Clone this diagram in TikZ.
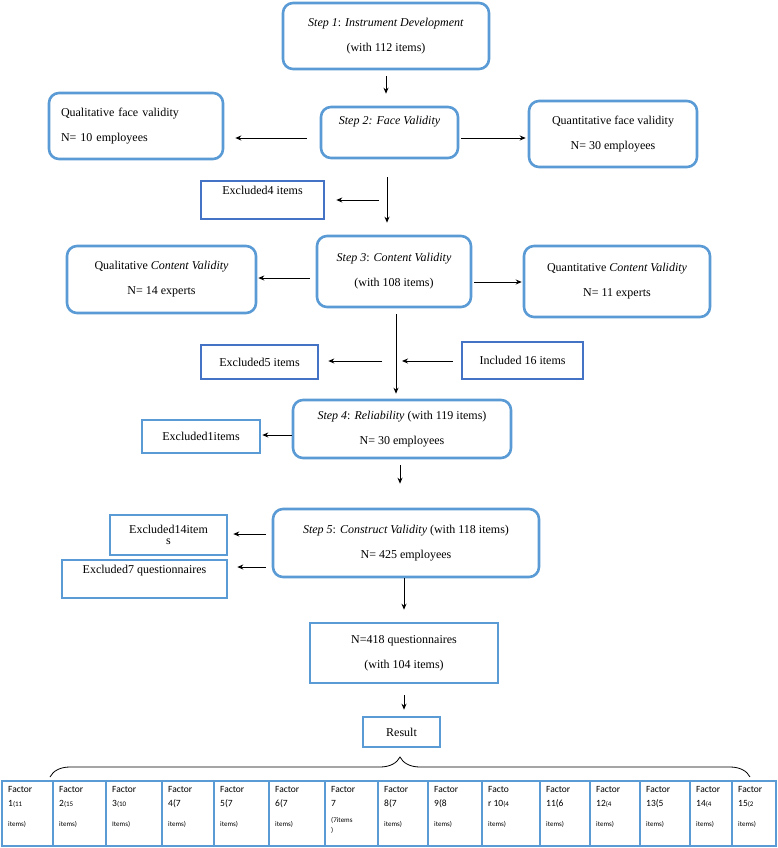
\documentclass[tikz,border=0pt]{standalone}
\usepackage{fontspec}
\setmainfont{Liberation Serif}
\newfontfamily\factorfont{Carlito}
\usetikzlibrary{positioning,decorations.pathreplacing,arrows.meta}

\definecolor{boxblue}{RGB}{91,155,213}
\definecolor{darkblue}{RGB}{68,114,196}

\begin{document}
\begin{tikzpicture}[
    x=1pt,y=-1pt,
    stepbox/.style={
      draw=boxblue,line width=2.6pt,rounded corners=10pt,
      inner sep=0pt,align=center,font=\fontsize{12}{14}\selectfont
    },
    plainbox/.style={
      stepbox,sharp corners
    },
    darkbox/.style={
      plainbox,draw=darkblue
    },
    arr/.style={
      -{Stealth[length=6pt,width=5pt]},line width=0.9pt
    }]
      \useasboundingbox (0,0) rectangle (777,848);

      \node[stepbox,minimum width=206pt,minimum height=66pt] (s1) at (386,36)
        {\textit{Step 1}: \textit{Instrument Development}\\[11pt](with 112 items)};
      \node[stepbox,minimum width=137pt,minimum height=51pt] (s2) at (389.5,132.5)
        {\textit{Step 2: Face Validity}\\[6pt]\strut};
      \node[stepbox,minimum width=174pt,minimum height=66pt,text width=150pt,align=left] (qf) at (136,126)
        {Qualitative face validity\\[11pt]N= 10 employees};
      \node[stepbox,minimum width=168pt,minimum height=66pt] (qnf) at (613,134)
        {Quantitative face validity\\[11pt]N= 30 employees};
      \node[darkbox,minimum width=123pt,minimum height=38pt] (ex4) at (262.5,200)
        {Excluded4 items\\[2pt]\strut};

      \node[stepbox,minimum width=154pt,minimum height=71pt] (s3) at (394,271.5)
        {\textit{Step 3}: \textit{Content Validity}\\[11pt](with 108 items)};
      \node[stepbox,minimum width=189pt,minimum height=67pt] (qc) at (161.5,279.5)
        {Qualitative \textit{Content Validity}\\[11pt]N= 14 experts};
      \node[stepbox,minimum width=186pt,minimum height=71pt] (qnc) at (617,281.5)
        {Quantitative \textit{Content Validity}\\[11pt]N= 11 experts};
      \node[darkbox,minimum width=117pt,minimum height=34pt] (ex5) at (259.5,362) {Excluded5 items};
      \node[darkbox,minimum width=121pt,minimum height=37pt] (in16) at (522.5,360.5) {Included 16 items};

      \node[stepbox,minimum width=218pt,minimum height=58pt] (s4) at (402,429)
        {\textit{Step 4}: \textit{Reliability} (with 119 items)\\[11pt]N= 30 employees};
      \node[plainbox,minimum width=118pt,minimum height=33pt] (ex1) at (201,436.5) {Excluded1items};

      \node[stepbox,minimum width=266pt,minimum height=68pt] (s5) at (406,543)
        {\textit{Step 5}: \textit{Construct Validity} (with 118 items)\\[11pt]N= 425 employees};
      \node[plainbox,minimum width=117pt,minimum height=40pt] (ex14) at (168.5,535)
        {Excluded14item\\[-3pt]s};
      \node[plainbox,minimum width=165pt,minimum height=38pt] (ex7) at (144.5,579)
        {Excluded7 questionnaires\\[2pt]\strut};

      \node[plainbox,minimum width=188pt,minimum height=60pt] (n418) at (404,653)
        {N=418 questionnaires\\[11pt](with 104 items)};
      \node[plainbox,minimum width=77pt,minimum height=30pt] (res) at (401.5,732) {Result};

      % factor row
      \foreach \n/\xa/\xb/\txt in {
          f1/2/53/{Factor\\1{\scriptsize(11}\\[6pt]{\scriptsize items)}},
          f2/53/106/{Factor\\2{\scriptsize(15}\\[6pt]{\scriptsize items)}},
          f3/106/162/{Factor\\3{\scriptsize(10}\\[6pt]{\scriptsize Items)}},
          f4/162/214/{Factor\\4(7\\[6pt]{\scriptsize items)}},
          f5/214/269/{Factor\\5(7\\[6pt]{\scriptsize items)}},
          f6/269/325/{Factor\\6(7\\[6pt]{\scriptsize items)}},
          f7/325/378/{Factor\\7\\[2pt]{\scriptsize(7items}\\[-4pt]{\scriptsize )}},
          f8/378/428/{Factor\\8(7\\[6pt]{\scriptsize items)}},
          f9/428/482/{Factor\\9(8\\[6pt]{\scriptsize items)}},
          f10/482/540/{Facto\\r 10{\scriptsize(4}\\[6pt]{\scriptsize items)}},
          f11/540/590/{Factor\\11(6\\[6pt]{\scriptsize items)}},
          f12/590/640/{Factor\\12{\scriptsize(4}\\[6pt]{\scriptsize items)}},
          f13/640/690/{Factor\\13(5\\[6pt]{\scriptsize items)}},
          f14/690/732/{Factor\\14{\scriptsize(4}\\[6pt]{\scriptsize items)}},
          f15/732/776/{Factor\\15{\scriptsize(2}\\[6pt]{\scriptsize items)}}}{
        \draw[draw=boxblue,line width=2.4pt] (\xa,781) rectangle (\xb,846);
        \node[anchor=north west,inner sep=0pt,align=left,
              font=\factorfont\fontsize{9.5}{14}\selectfont] (\n) at (\xa+6,786) {\txt};
      }

      % connectors
      \draw[arr,shorten <=6pt,shorten >=12pt] (s1.south) -- (s1.south |- s2.north);
      \draw[arr,shorten <=13pt,shorten >=11pt] (s2.west |- 0,138) -- (qf.east |- 0,138);
      \draw[arr,shorten <=2pt,shorten >=2pt] (s2.east |- 0,138) -- (qnf.west |- 0,138);
      \coordinate (c2) at (387,200);
      \draw[arr,shorten <=18pt,shorten >=12pt] (s2.south -| c2) -- (s3.north -| c2);
      \draw[arr,shorten <=8pt,shorten >=11pt] (c2) -- (ex4.east |- c2);
      \draw[arr,shorten <=6pt,shorten >=1pt] (s3.west |- 0,278) -- (qc.east |- 0,278);
      \draw[arr,shorten <=2pt,shorten >=1pt] (s3.east |- 0,282) -- (qnc.west |- 0,282);
      \coordinate (c3) at (396,361);
      \draw[arr,shorten <=6pt,shorten >=5pt] (s3.south -| c3) -- (s4.north -| c3);
      \draw[arr,shorten <=14pt,shorten >=9pt] (c3) -- (ex5.east |- c3);
      \draw[arr,shorten <=8pt,shorten >=6pt] (in16.west |- c3) -- (c3);
      \draw[arr,shorten >=1pt] (s4.west |- 0,435) -- (ex1.east |- 0,435);
      \draw[arr,shorten <=6pt,shorten >=24pt] (s4.south -| 400,0) -- (s5.north -| 400,0);
      \draw[arr,shorten <=6pt,shorten >=5pt] (s5.west |- 0,534) -- (ex14.east |- 0,534);
      \draw[arr,shorten <=6pt,shorten >=9pt] (s5.west |- 0,567) -- (ex7.east |- 0,567);
      \draw[arr,shorten >=12pt] (s5.south -| n418) -- (n418.north);
      \draw[arr,shorten <=11pt,shorten >=6pt] (n418.south) -- (n418.south |- res.north);

      % brace
      \draw[decorate,decoration={brace,amplitude=20pt},line width=0.8pt] (50,777) -- (750,777);
  \end{tikzpicture}
\end{document}
